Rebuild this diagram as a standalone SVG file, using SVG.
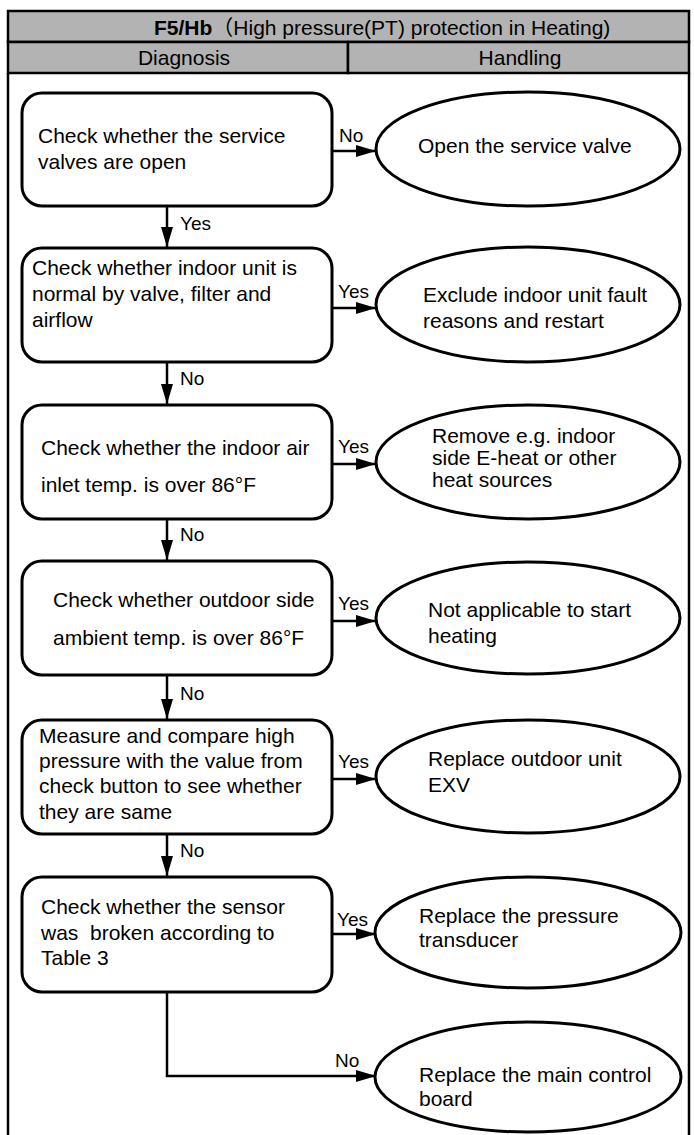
<svg xmlns="http://www.w3.org/2000/svg" width="694" height="1135" viewBox="0 0 694 1135">
<style>
text{font-family:"Liberation Sans",Arial,"Noto Sans CJK SC",sans-serif;fill:#000}
.t{font-size:21px}
.h{font-size:21px}
.l{font-size:19px}
.box{fill:#fff;stroke:#000;stroke-width:3}
.ell{fill:#fff;stroke:#000;stroke-width:3}
.con{fill:none;stroke:#000;stroke-width:2.5;marker-end:url(#ah)}
.hdr{fill:#b3b3b3;stroke:#000;stroke-width:2.5}
</style>
<defs>
<marker id="ah" markerUnits="userSpaceOnUse" viewBox="0 0 20 12" markerWidth="20" markerHeight="12" refX="20" refY="6" orient="auto">
<path d="M0,0 L20,6 L0,12 Z" fill="#000"/>
</marker>
</defs>
<rect width="694" height="1135" fill="#fff"/>
<g id="frame">
<rect class="hdr" x="8" y="11" width="681" height="31"/>
<rect class="hdr" x="8" y="42" width="340" height="31"/>
<rect class="hdr" x="348" y="42" width="341" height="31"/>
<line x1="8" y1="73" x2="8" y2="1135" stroke="#000" stroke-width="2.5"/>
<line x1="689" y1="73" x2="689" y2="1135" stroke="#000" stroke-width="2.5"/>
<text class="h" x="154" y="35"><tspan font-weight="bold">F5/Hb</tspan><tspan>（High pressure(PT) protection in Heating)</tspan></text>
<text class="h" x="184" y="65" text-anchor="middle">Diagnosis</text>
<text class="h" x="520" y="65" text-anchor="middle">Handling</text>
</g>
<g id="connectors">
<line class="con" x1="167" y1="206" x2="167" y2="247"/>
<line class="con" x1="167" y1="362" x2="167" y2="404"/>
<line class="con" x1="167" y1="519" x2="167" y2="560"/>
<line class="con" x1="167" y1="675" x2="167" y2="719"/>
<line class="con" x1="167" y1="834" x2="167" y2="876"/>
<line class="con" x1="332" y1="151" x2="376" y2="151"/>
<line class="con" x1="332" y1="308" x2="376" y2="308"/>
<line class="con" x1="332" y1="464" x2="376" y2="464"/>
<line class="con" x1="332" y1="621" x2="376" y2="621"/>
<line class="con" x1="332" y1="779" x2="376" y2="779"/>
<line class="con" x1="332" y1="934" x2="376" y2="934"/>
<path class="con" d="M167,992 L167,1076 L376,1076"/>
<text class="l" x="180" y="230">Yes</text>
<text class="l" x="180" y="385">No</text>
<text class="l" x="180" y="541">No</text>
<text class="l" x="180" y="700">No</text>
<text class="l" x="180" y="857">No</text>
<text class="l" x="339" y="142">No</text>
<text class="l" x="338" y="298">Yes</text>
<text class="l" x="338" y="453">Yes</text>
<text class="l" x="338" y="610">Yes</text>
<text class="l" x="338" y="768">Yes</text>
<text class="l" x="337" y="926">Yes</text>
<text class="l" x="335" y="1067">No</text>
</g>
<g id="box1">
<rect class="box" x="22" y="93" width="310" height="113" rx="20"/>
<text class="t" x="38" y="143">Check whether the service</text>
<text class="t" x="38" y="169">valves are open</text>
</g>
<g id="box2">
<rect class="box" x="22" y="248" width="310" height="114" rx="20"/>
<text class="t" x="32" y="275">Check whether indoor unit is</text>
<text class="t" x="32" y="301">normal by valve, filter and</text>
<text class="t" x="32" y="327">airflow</text>
</g>
<g id="box3">
<rect class="box" x="22" y="405" width="310" height="114" rx="20"/>
<text class="t" x="41" y="455">Check whether the indoor air</text>
<text class="t" x="41" y="492">inlet temp. is over 86°F</text>
</g>
<g id="box4">
<rect class="box" x="22" y="561" width="310" height="114" rx="20"/>
<text class="t" x="53" y="607">Check whether outdoor side</text>
<text class="t" x="53" y="645">ambient temp. is over 86°F</text>
</g>
<g id="box5">
<rect class="box" x="22" y="720" width="310" height="114" rx="20"/>
<text class="t" x="39" y="743">Measure and compare high</text>
<text class="t" x="39" y="768">pressure with the value from</text>
<text class="t" x="39" y="793">check button to see whether</text>
<text class="t" x="39" y="819">they are same</text>
</g>
<g id="box6">
<rect class="box" x="22" y="877" width="310" height="115" rx="20"/>
<text class="t" x="41" y="914" xml:space="preserve">Check whether the sensor</text>
<text class="t" x="41" y="940" xml:space="preserve">was  broken according to</text>
<text class="t" x="41" y="965">Table 3</text>
</g>
<g id="end1">
<ellipse class="ell" cx="528" cy="149" rx="152" ry="57"/>
<text class="t" x="418" y="153">Open the service valve</text>
</g>
<g id="end2">
<ellipse class="ell" cx="528" cy="304.5" rx="152" ry="57.5"/>
<text class="t" x="423" y="302">Exclude indoor unit fault</text>
<text class="t" x="423" y="328">reasons and restart</text>
</g>
<g id="end3">
<ellipse class="ell" cx="528" cy="462" rx="152" ry="57"/>
<text class="t" x="432" y="443">Remove e.g. indoor</text>
<text class="t" x="432" y="465">side E-heat or other</text>
<text class="t" x="432" y="487">heat sources</text>
</g>
<g id="end4">
<ellipse class="ell" cx="528" cy="618" rx="152" ry="56"/>
<text class="t" x="428" y="617">Not applicable to start</text>
<text class="t" x="428" y="643">heating</text>
</g>
<g id="end5">
<ellipse class="ell" cx="528" cy="776.5" rx="152" ry="56.5"/>
<text class="t" x="428" y="766">Replace outdoor unit</text>
<text class="t" x="428" y="792">EXV</text>
</g>
<g id="end6">
<ellipse class="ell" cx="528" cy="932.5" rx="153" ry="55.5"/>
<text class="t" x="419" y="923">Replace the pressure</text>
<text class="t" x="419" y="947">transducer</text>
</g>
<g id="end7">
<ellipse class="ell" cx="528" cy="1077" rx="153" ry="55"/>
<text class="t" x="419" y="1082">Replace the main control</text>
<text class="t" x="419" y="1106">board</text>
</g>
</svg>
